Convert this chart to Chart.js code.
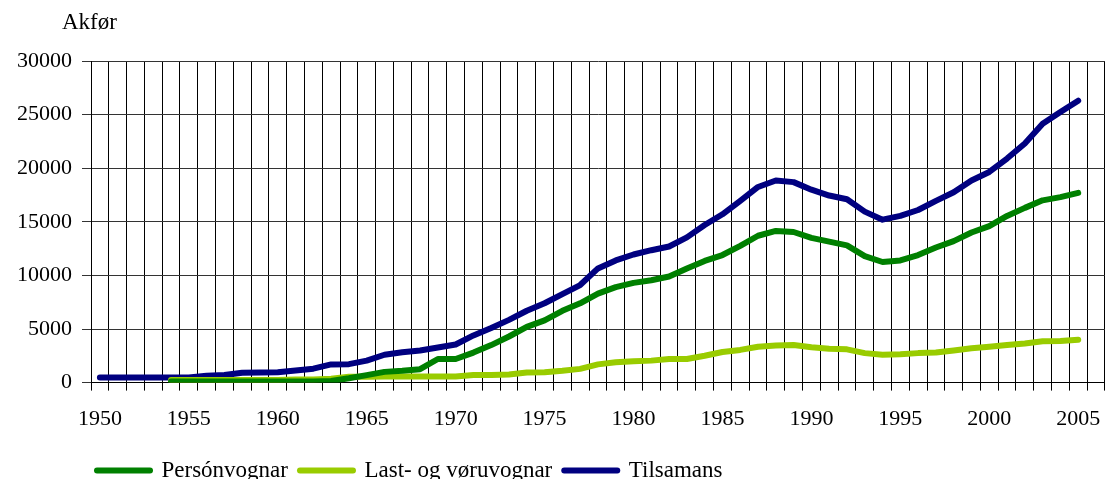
<!DOCTYPE html>
<html>
<head>
<meta charset="utf-8">
<script src="https://cdn.jsdelivr.net/npm/chart.js@4"></script>
<style>
  html, body { margin: 0; padding: 0; background: #fff; }
  #wrap { width: 1111px; height: 479px; }
</style>
</head>
<body>
<div id="wrap"><canvas id="myChart"></canvas></div>
<script>
const ctx = document.getElementById('myChart');

// years 1950-2006 (2006 is an empty slot, as in the original)
const years = [];
for (let y = 1950; y <= 2006; y++) years.push(String(y));

const personvognar = [null, null, null, null, 100, 100, 100, 100, 100, 100,
  100, 100, 100, 150, 400, 700, 1000, 1100, 1250, 2200,
  2200, 2800, 3500, 4300, 5200, 5800, 6700, 7400, 8300, 8900,
  9300, 9550, 9900, 10650, 11350, 11900, 12750, 13700, 14150, 14050,
  13500, 13150, 12800, 11800, 11250, 11400, 11900, 12600, 13200, 14000,
  14600, 15550, 16300, 17000, 17300, 17700, null];

const lastvognar = [null, null, null, null, 250, 250, 250, 250, 250, 250,
  250, 300, 300, 350, 550, 550, 560, 560, 560, 560,
  560, 700, 700, 760, 950, 970, 1100, 1280, 1700, 1900,
  2000, 2050, 2200, 2200, 2500, 2850, 3050, 3350, 3450, 3500,
  3300, 3150, 3100, 2750, 2600, 2650, 2750, 2800, 3000, 3200,
  3350, 3500, 3650, 3850, 3880, 4000, null];

const tilsamans = [480, 480, 480, 480, 480, 480, 650, 700, 920, 940,
  960, 1120, 1300, 1700, 1720, 2050, 2600, 2830, 3000, 3280,
  3550, 4400, 5100, 5850, 6700, 7400, 8250, 9100, 10650, 11400,
  11950, 12350, 12700, 13550, 14700, 15700, 16950, 18250, 18850, 18700,
  18000, 17450, 17100, 15950, 15200, 15550, 16100, 16950, 17750, 18850,
  19650, 20900, 22300, 24150, 25250, 26300, null];

const yTicks = [0, 5000, 10000, 15000, 20000, 25000, 30000];

const FONT = "'Liberation Serif', 'Times New Roman', serif";

const titlePlugin = {
  id: 'akfor',
  afterDraw(chart) {
    const c = chart.ctx;
    c.save();
    c.font = '23px ' + FONT;
    c.fillStyle = '#000';
    c.textBaseline = 'alphabetic';
    c.fillText('Akfør', chart.chartArea.left - 29, 29);
    c.restore();
  }
};

const legendShift = {
  id: 'legendShift',
  afterLayout(chart) {
    chart.legend.left = 85;
  }
};

const data = {
  labels: years,
  datasets: [
    {
      label: 'Persónvognar',
      data: personvognar,
      borderColor: '#008000',
      backgroundColor: '#008000',
    },
    {
      label: 'Last- og vøruvognar',
      data: lastvognar,
      borderColor: '#99CC00',
      backgroundColor: '#99CC00',
    },
    {
      label: 'Tilsamans',
      data: tilsamans,
      borderColor: '#000080',
      backgroundColor: '#000080',
    }
  ]
};

const config = {
  type: 'line',
  data: data,
  options: {
    responsive: true,
    maintainAspectRatio: false,
    animation: false,
    layout: { padding: { top: 61, right: 1, left: 0, bottom: -13 } },
    elements: {
      line: { borderWidth: 6, tension: 0, borderCapStyle: 'round', borderJoinStyle: 'round' },
      point: { radius: 0, hoverRadius: 0 }
    },
    scales: {
      x: {
        offset: true,
        grid: { offset: true, color: '#000', lineWidth: 1, tickLength: 8 },
        border: { color: '#000' },
        ticks: {
          autoSkip: false,
          maxRotation: 0,
          padding: 15,
          color: '#000',
          font: { family: FONT, size: 22 },
          callback: function (v, i) {
            const y = parseInt(years[i]);
            return (y % 5 === 0 && y <= 2005) ? years[i] : '';
          }
        }
      },
      y: {
        min: 0,
        max: 30000,
        afterFit(scale) { scale.width = 91; },
        afterBuildTicks(scale) { scale.ticks = yTicks.map(v => ({ value: v })); },
        grid: { color: '#333', lineWidth: 1, tickLength: 9 },
        border: { color: '#000' },
        ticks: {
          padding: 10,
          color: '#000',
          font: { family: FONT, size: 22 },
          callback: v => String(v)
        }
      }
    },
    plugins: {
      legend: {
        position: 'bottom',
        align: 'start',
        labels: {
          usePointStyle: true,
          pointStyle: 'line',
          pointStyleWidth: 53,
          padding: 12,
          color: '#000',
          font: { family: FONT, size: 23 },
          generateLabels(chart) {
            return Chart.defaults.plugins.legend.labels.generateLabels(chart).map(l => {
              l.lineWidth = 6;
              l.lineCap = 'round';
              l.strokeStyle = chart.data.datasets[l.datasetIndex].borderColor;
              return l;
            });
          }
        }
      },
      title: { display: false },
      tooltip: { enabled: false }
    }
  },
  plugins: [titlePlugin, legendShift]
};

const myChart = new Chart(ctx, config);
</script>
</body>
</html>
